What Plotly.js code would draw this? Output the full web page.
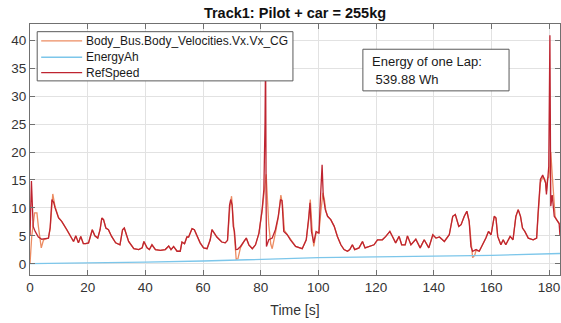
<!DOCTYPE html>
<html>
<head>
<meta charset="utf-8">
<script src="https://cdn.plot.ly/plotly-3.0.1.min.js"></script>
<style>html,body{margin:0;padding:0;background:#fff;}#chart{width:561px;height:323px;}</style>
</head>
<body>
<div id="chart"></div>
<script>
// ---- data ----
const seriesNames = ["Body_Bus.Body_Velocities.Vx.Vx_CG", "EnergyAh", "RefSpeed"];
const chartTitle = "Track1: Pilot + car = 255kg";
const xTitle = "Time [s]";
const noteLine1 = "Energy of one Lap:";
const noteLine2 = "\u00A0539.88 Wh";
const xTicks = [0, 20, 40, 60, 80, 100, 120, 140, 160, 180];
const yTicks = [0, 5, 10, 15, 20, 25, 30, 35, 40];

const timeRef = [0,0.5,1.1,1.8,2.9,4.1,5.3,6.4,7.0,7.6,8.2,8.7,9.9,11.0,12.8,14.3,15.1,15.9,16.8,17.6,18.5,19.3,20.3,21.6,22.5,23.5,24.3,24.9,25.5,26.3,27.2,28.3,29.7,31.2,32.1,32.7,33.5,34.2,36,37.7,38.9,39.5,40.6,41.4,42.3,43.5,45.2,46.9,48.1,48.9,49.8,51,52.1,52.7,53.6,54.4,55,56.2,57,57.9,59,60.2,61.4,62.5,63.1,63.9,64.8,66.5,67.7,68.5,69.2,69.6,70.1,70.5,70.9,71.4,72,73,74.2,75,75.9,77.1,78.2,79.4,80.5,81.1,81.5,81.7,81.9,82.0,82.8,84,85.1,86.1,86.9,87.4,88,89.2,90.3,92.1,94.4,95.8,96.7,97.1,97.6,98.4,99.2,100.2,100.7,101.3,101.7,102.4,103.2,104.3,105.5,106.6,107.8,108.9,110.1,110.9,111.8,112.6,114.1,115.3,116.2,117.6,119.3,120.5,122.2,123.4,124.8,125.7,126.8,128,128.9,130.1,130.9,132.1,133.8,135.3,136.7,138.3,139.7,140.8,142,143.7,145.4,146.6,147.5,148.7,149.5,150.6,151.5,152.3,152.9,153.5,154.7,155.8,156.7,158.1,159,159.9,161,161.6,162.2,163.3,164.1,165,166.5,167.5,168.5,169.3,170.1,170.8,171.6,172.8,174.5,175.7,176.2,177,177.8,178.4,178.8,179.1,179.5,179.9,180.3,180.6,181.1,181.8,182.6,183.5,183.8];
const refSpeed = [5.0,14.8,6.7,5.8,4.8,4.4,4.5,4.6,6.5,11.5,11.0,10.0,8.2,7.6,6.1,4.6,4.0,5.0,3.75,4.9,3.6,3.6,3.75,6.1,5.0,4.6,6.1,8.2,7.9,6.4,6.1,4.9,3.75,3.4,6.1,6.4,5.2,4.0,2.7,2.55,2.85,4.0,2.85,2.55,3.4,2.55,2.4,2.55,3.2,2.55,3.1,2.25,2.25,3.9,3.6,4.8,4.8,6.3,6.1,4.9,3.75,2.85,2.7,4.3,6.1,5.5,4.8,3.9,3.75,4.2,10.5,11.5,10.5,6.7,5.8,2.55,2.6,3.1,4.0,4.6,3.4,2.7,3.4,5.5,9.7,13.3,25,38,10,3.1,4.3,4.6,6.1,8.5,11.5,11.3,5.8,5.2,4.3,3.1,2.7,4.3,8.5,10.9,5.8,3.75,5.8,5.5,11.5,17.7,12.1,9.7,8.5,7.9,6.7,4.9,3.4,2.55,2.25,2.55,3.4,2.55,2.85,4.0,2.85,3.1,3.4,4.3,4.3,4.9,5.8,4.9,3.75,4.9,3.4,3.4,5.0,3.4,4.4,2.85,4.3,2.85,5.2,4.6,4.8,4.0,5.2,8.5,8.8,6.7,7.0,8.5,9.4,7.6,3.1,2.25,2.55,2.25,3.1,4.6,5.8,5.2,8.5,8.2,4.9,3.4,4.3,3.4,4.9,4.3,8.5,9.7,8.5,6.4,5.8,4.6,4.3,4.6,9.1,15.1,15.9,15.1,14.5,12.4,15.9,17.4,40.9,10.3,12.3,8.5,7.9,7.2,5.0];

const timeVx = [0,0.6,1.6,2.4,2.9,3.9,4.7,6.4,7.0,7.9,8.7,9.9,11.0,12.8,14.3,15.1,15.9,16.8,17.6,18.5,19.3,20.3,21.6,22.5,23.5,24.3,24.9,25.5,26.3,27.2,28.3,29.7,31.2,32.1,32.7,33.5,34.2,36,37.7,38.9,39.5,40.6,41.4,42.3,43.5,45.2,46.9,48.1,48.9,49.8,51,52.1,52.7,53.6,54.4,55,56.2,57,57.9,59,60.2,61.4,62.5,63.1,63.9,64.8,66.5,67.7,68.5,69.3,69.9,70.3,70.7,71.1,71.5,72.1,73,74.2,75,75.9,77.1,78.2,79.4,80.5,81.1,81.9,82.4,82.8,83.5,84,85.1,86.1,87.0,87.6,88.2,89.2,90.3,92.1,94.4,95.8,96.7,97.2,97.8,98.4,99.2,100.2,100.9,101.6,102.1,102.6,103.2,104.3,105.5,106.6,107.8,108.9,110.1,110.9,111.8,112.6,114.1,115.3,116.2,117.6,119.3,120.5,122.2,123.4,124.8,125.7,126.8,128,128.9,130.1,130.9,132.1,133.8,135.3,136.7,138.3,139.7,140.8,142,143.7,145.4,146.6,147.5,148.7,149.5,150.6,151.5,152.3,152.9,153.5,154.2,154.7,155.8,156.7,158.1,159,159.9,161,161.6,162.2,163.3,164.1,165,166.5,167.5,168.5,169.3,170.1,170.8,171.6,172.8,174.5,175.7,176.2,177,177.8,178.4,178.8,179.1,179.5,179.9,180.3,180.6,181.1,181.6,182.1,182.6,183.5,183.8];
const vxCG = [0,4.9,9.1,9.1,6.7,2.85,4.3,4.6,6.3,12.5,10.2,8.3,7.6,6.1,4.6,4.0,5.0,3.75,4.9,3.6,3.6,3.75,6.1,5.0,4.6,6.1,8.2,7.9,6.4,6.1,4.9,3.75,3.4,6.1,6.4,5.2,4.0,2.7,2.55,2.85,4.0,2.85,2.55,3.4,2.55,2.4,2.55,3.2,2.55,3.1,2.25,2.25,3.9,3.6,4.8,4.8,6.3,6.1,4.9,3.75,2.85,2.7,4.3,6.1,5.5,4.8,3.9,3.75,4.2,10.0,12.1,9.0,6.5,4.0,0.8,0.9,2.9,4.0,4.6,3.4,2.7,3.4,5.5,9.5,12.5,16.0,11.0,7.0,3.5,2.7,5.5,8.3,12.3,10.5,6.0,5.2,4.3,3.1,2.7,4.3,8.0,11.5,6.5,3.1,5.5,5.6,9.5,12.7,11.5,9.5,8.5,7.9,6.7,4.9,3.4,2.55,2.25,2.55,3.4,2.55,2.85,4.0,2.85,3.1,3.4,4.3,4.3,4.9,5.8,4.9,3.75,4.9,3.4,3.4,5.0,3.4,4.4,2.85,4.3,2.85,5.2,4.6,4.8,4.0,5.2,8.5,8.8,6.7,7.0,8.5,9.4,7.6,3.5,1.1,1.5,2.4,2.25,3.1,4.6,5.8,5.2,8.5,8.2,4.9,3.4,4.3,3.4,4.9,4.3,8.5,9.7,8.5,6.4,5.8,4.6,4.3,4.6,8.5,14.5,15.5,15.3,14.5,13.0,15.3,15.5,17.0,20.0,16.0,11.0,8.5,7.9,7.2,7.0];

const timeEnergy = [0,20,40,60,80,100,120,140,160,183.8];
const energyAh = [0.05,0.15,0.3,0.5,0.85,1.1,1.25,1.35,1.5,1.85];

// ---- colours / styles ----
const colVx = "#EC8C62";
const colEnergy = "#7CC6EA";
const colRef = "#BE2430";
const axisCol = "#707070";

// plot area in pixels: left 29.5, right 560, top 24, bottom 275.5
const L = 29.5, R = 560, T = 24, B = 275.5, W = 561, H = 323;
const px = v => (v - L) / (R - L);
const py = v => (B - v) / (B - T);

const traces = [
  {x: timeVx, y: vxCG, type: "scatter", mode: "lines", name: seriesNames[0], line: {color: colVx, width: 1.3}, showlegend: false},
  {x: timeEnergy, y: energyAh, type: "scatter", mode: "lines", name: seriesNames[1], line: {color: colEnergy, width: 1.3}, showlegend: false},
  {x: timeRef, y: refSpeed, type: "scatter", mode: "lines", name: seriesNames[2], line: {color: colRef, width: 1.3}, showlegend: false}
];

const legendCols = [colVx, colEnergy, colRef];
const legendY = [41, 57.3, 72.7];
const shapes = [
  {type: "rect", xref: "paper", yref: "paper", x0: px(36.7), x1: px(292.7), y0: py(81), y1: py(31.7), fillcolor: "#ffffff", line: {color: "#5a5a5a", width: 1}, layer: "above"},
  {type: "rect", xref: "paper", yref: "paper", x0: px(362.7), x1: px(509), y0: py(91), y1: py(49.3), fillcolor: "#ffffff", line: {color: "#5a5a5a", width: 1}, layer: "above"}
];
const annotations = [];
seriesNames.forEach((n, i) => {
  shapes.push({type: "line", xref: "paper", yref: "paper", x0: px(40.7), x1: px(81.7), y0: py(legendY[i]), y1: py(legendY[i]), line: {color: legendCols[i], width: 1.3}, layer: "above"});
  annotations.push({xref: "paper", yref: "paper", x: px(84), y: py(legendY[i]), xanchor: "left", yanchor: "middle", text: n, showarrow: false, font: {family: "Liberation Sans, Arial, sans-serif", size: 12, color: "#1a1a1a"}});
});
annotations.push({xref: "paper", yref: "paper", x: px(369.5), y: py(62), xanchor: "left", yanchor: "middle", text: noteLine1, showarrow: false, font: {family: "Liberation Sans, Arial, sans-serif", size: 13, color: "#1a1a1a"}});
annotations.push({xref: "paper", yref: "paper", x: px(369.5), y: py(80), xanchor: "left", yanchor: "middle", text: noteLine2, showarrow: false, font: {family: "Liberation Sans, Arial, sans-serif", size: 13, color: "#1a1a1a"}});

const axisCommon = {
  showline: true, linecolor: axisCol, linewidth: 1, mirror: "ticks",
  ticks: "inside", ticklen: 5, tickwidth: 1, tickcolor: axisCol,
  showgrid: true, gridcolor: "#e2e2e2", gridwidth: 1, zeroline: false,
  tickfont: {family: "Liberation Sans, Arial, sans-serif", size: 13.5, color: "#333333"}
};

const layout = {
  width: W, height: H,
  margin: {l: L, r: W - R, t: T, b: H - B, pad: 0},
  paper_bgcolor: "#ffffff", plot_bgcolor: "#ffffff",
  showlegend: false,
  title: {text: "<b>" + chartTitle + "</b>", x: 0.5, xref: "paper", y: 1 - 12.5 / H, yref: "container", xanchor: "center", yanchor: "middle",
          font: {family: "Liberation Sans, Arial, sans-serif", size: 14.5, color: "#111111"}},
  xaxis: Object.assign({}, axisCommon, {range: [0, 183.8], tickvals: xTicks, ticktext: xTicks.map(String),
          title: {text: xTitle, standoff: 10, font: {family: "Liberation Sans, Arial, sans-serif", size: 14, color: "#333333"}}}),
  yaxis: Object.assign({}, axisCommon, {range: [-2, 42.9], tickvals: yTicks, ticktext: yTicks.map(String)}),
  shapes: shapes,
  annotations: annotations
};

Plotly.newPlot("chart", traces, layout, {staticPlot: true, displayModeBar: false});
</script>
</body>
</html>
